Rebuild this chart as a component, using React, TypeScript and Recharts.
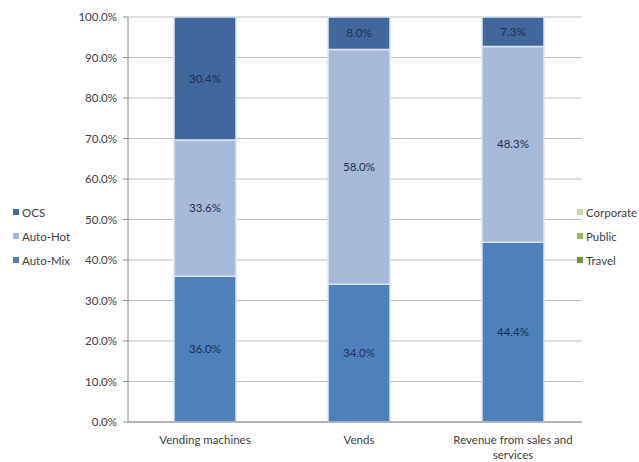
import React from "react";
import { BarChart, Bar, XAxis, YAxis, CartesianGrid, LabelList } from "recharts";

const categories = ["Vending machines", "Vends", "Revenue from sales and services"];
const autoMix = [36.0, 34.0, 44.4];
const autoHot = [33.6, 58.0, 48.3];
const ocs = [30.4, 8.0, 7.3];
const yTicks = [0, 10, 20, 30, 40, 50, 60, 70, 80, 90, 100];

const leftLegend = [
  { name: "OCS", color: "#41679d" },
  { name: "Auto-Hot", color: "#a7b9d9" },
  { name: "Auto-Mix", color: "#4e80bc" },
];
const rightLegend = [
  { name: "Corporate", color: "#c6d9a0" },
  { name: "Public", color: "#9bbb59" },
  { name: "Travel", color: "#77933c" },
];

const data = categories.map((c, i) => ({
  name: c,
  autoMix: autoMix[i],
  autoHot: autoHot[i],
  ocs: ocs[i],
}));

const FONT = "Lato, 'Open Sans', sans-serif";

const wrapWords = (s: string, maxChars: number) => {
  const words = s.split(" ");
  const lines: string[] = [];
  let cur = "";
  for (const w of words) {
    const next = cur ? cur + " " + w : w;
    if (next.length > maxChars && cur) {
      lines.push(cur);
      cur = w;
    } else {
      cur = next;
    }
  }
  if (cur) lines.push(cur);
  return lines;
};

const CatTick = (props: any) => {
  const { x, y, payload } = props;
  const lines = wrapWords(String(payload.value), 23);
  return (
    <text x={x} y={y + 14} textAnchor="middle" fontSize={11.5} fill="#404040" fontFamily={FONT}>
      {lines.map((l, i) => (
        <tspan key={i} x={x} dy={i === 0 ? 0 : 15}>
          {l}
        </tspan>
      ))}
    </text>
  );
};

const fmt = (v: any) => `${Number(v).toFixed(1)}%`;

const LegendBlock = ({ items, left }: { items: { name: string; color: string }[]; left: number }) => (
  <div style={{ position: "absolute", left, top: 200, fontFamily: FONT, fontSize: 11.5, color: "#404040" }}>
    {items.map((it) => (
      <div key={it.name} style={{ display: "flex", alignItems: "center", height: 24 }}>
        <span style={{ display: "inline-block", width: 6, height: 6, background: it.color, marginRight: 3 }} />
        <span>{it.name}</span>
      </div>
    ))}
  </div>
);

export default function App() {
  const labelProps = { position: "center" as const, formatter: fmt, fill: "#1c2f52", fontSize: 11.5, fontFamily: FONT };
  return (
    <div style={{ position: "absolute", left: 0, top: 0, width: 639, height: 462, background: "#fff" }}>
      <BarChart
        width={639}
        height={462}
        data={data}
        margin={{ top: 17, right: 57, bottom: 10, left: 0 }}
        barCategoryGap={46}
      >
        <CartesianGrid vertical={false} stroke="#bfbfbf" strokeWidth={1} />
        <XAxis
          dataKey="name"
          tick={<CatTick />}
          tickLine={false}
          axisLine={{ stroke: "#8c8c8c" }}
          height={30}
          interval={0}
          padding={{ left: 0, right: -8 }}
        />
        <YAxis
          width={128}
          domain={[0, 100]}
          ticks={yTicks}
          tickFormatter={fmt}
          tick={{ fontSize: 11.5, fill: "#404040", fontFamily: FONT }}
          tickLine={{ stroke: "#8c8c8c" }}
          tickSize={5}
          tickMargin={6}
          axisLine={{ stroke: "#8c8c8c" }}
        />
        <Bar dataKey="autoMix" stackId="a" fill="#4e80bc" stroke="#dce6f2" strokeWidth={1.5} isAnimationActive={false}>
          <LabelList dataKey="autoMix" {...labelProps} />
        </Bar>
        <Bar dataKey="autoHot" stackId="a" fill="#a7b9d9" stroke="#dce6f2" strokeWidth={1.5} isAnimationActive={false}>
          <LabelList dataKey="autoHot" {...labelProps} />
        </Bar>
        <Bar dataKey="ocs" stackId="a" fill="#41679d" stroke="#dce6f2" strokeWidth={1.5} isAnimationActive={false}>
          <LabelList dataKey="ocs" {...labelProps} />
        </Bar>
      </BarChart>
      <LegendBlock items={leftLegend} left={13} />
      <LegendBlock items={rightLegend} left={577} />
    </div>
  );
}
